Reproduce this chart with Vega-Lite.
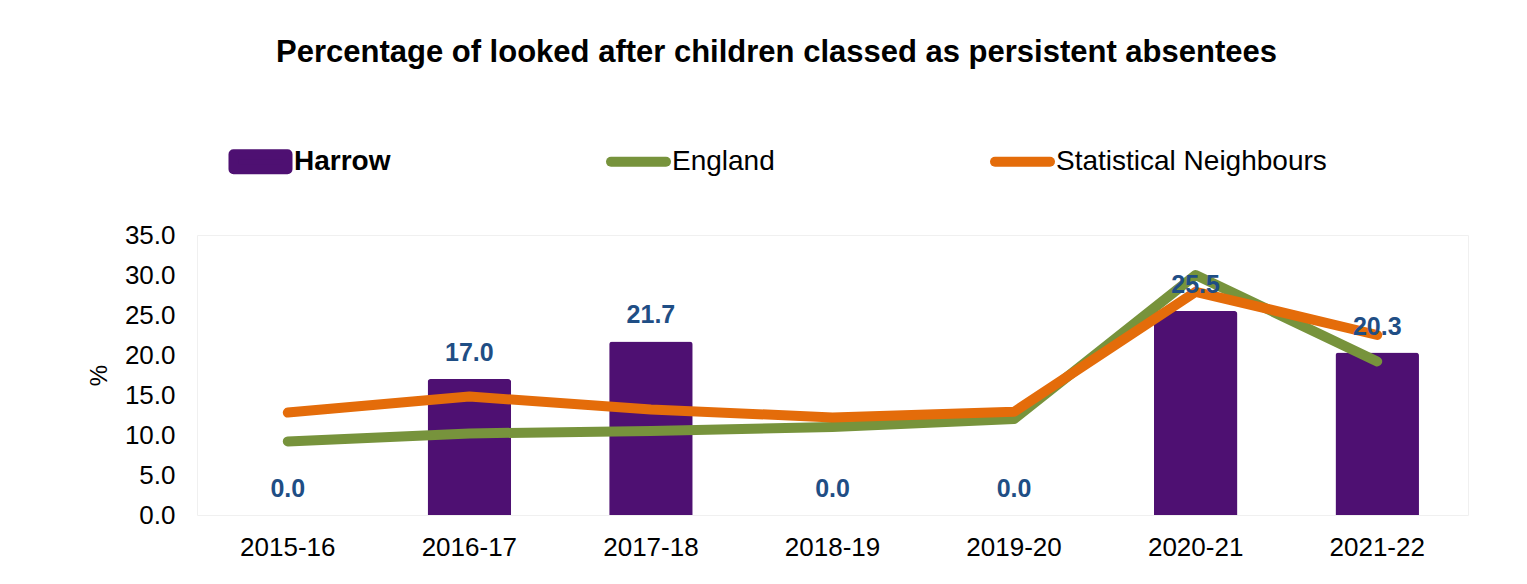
{
  "$schema": "https://vega.github.io/schema/vega-lite/v6.json",
  "autosize": {"type": "none"},
  "padding": {"left": 197, "top": 235, "right": 59, "bottom": 69},
  "width": 1271,
  "height": 280,
  "background": "white",
  "title": {
    "text": "Percentage of looked after children classed as persistent absentees",
    "font": "Liberation Sans",
    "fontSize": 31,
    "fontWeight": "bold",
    "color": "#000000",
    "anchor": "middle",
    "frame": "group",
    "dx": -56,
    "offset": 60
  },
  "config": {
    "view": {"stroke": "#F0F0F0", "strokeWidth": 1},
    "font": "Liberation Sans"
  },
  "data": {
    "values": [
      {"year": "2015-16", "series": "Harrow", "value": 0.0},
      {"year": "2016-17", "series": "Harrow", "value": 17.0},
      {"year": "2017-18", "series": "Harrow", "value": 21.7},
      {"year": "2018-19", "series": "Harrow", "value": 0.0},
      {"year": "2019-20", "series": "Harrow", "value": 0.0},
      {"year": "2020-21", "series": "Harrow", "value": 25.5},
      {"year": "2021-22", "series": "Harrow", "value": 20.3},
      {"year": "2015-16", "series": "England", "value": 9.2},
      {"year": "2016-17", "series": "England", "value": 10.2},
      {"year": "2017-18", "series": "England", "value": 10.5},
      {"year": "2018-19", "series": "England", "value": 11.0},
      {"year": "2019-20", "series": "England", "value": 12.0},
      {"year": "2020-21", "series": "England", "value": 30.0},
      {"year": "2021-22", "series": "England", "value": 19.2},
      {"year": "2015-16", "series": "Statistical Neighbours", "value": 12.8},
      {"year": "2016-17", "series": "Statistical Neighbours", "value": 14.8},
      {"year": "2017-18", "series": "Statistical Neighbours", "value": 13.2},
      {"year": "2018-19", "series": "Statistical Neighbours", "value": 12.2},
      {"year": "2019-20", "series": "Statistical Neighbours", "value": 12.9},
      {"year": "2020-21", "series": "Statistical Neighbours", "value": 27.9},
      {"year": "2021-22", "series": "Statistical Neighbours", "value": 22.5}
    ]
  },
  "encoding": {
    "x": {
      "field": "year",
      "type": "nominal",
      "sort": null,
      "scale": {"paddingInner": 0.54, "paddingOuter": 0.27},
      "axis": {
        "title": null,
        "labelAngle": 0,
        "labelFont": "Liberation Sans",
        "labelFontSize": 26,
        "labelColor": "#000000",
        "labelPadding": 19,
        "domain": false,
        "ticks": false,
        "grid": false
      }
    },
    "y": {
      "field": "value",
      "type": "quantitative",
      "scale": {"domain": [0, 35], "nice": false},
      "axis": {
        "title": "%",
        "titleFont": "Liberation Sans",
        "titleFontSize": 24,
        "titleFontWeight": "normal",
        "titleColor": "#000000",
        "titlePadding": 13,
        "values": [0, 5, 10, 15, 20, 25, 30, 35],
        "format": ".1f",
        "labelFont": "Liberation Sans",
        "labelFontSize": 26,
        "labelColor": "#000000",
        "labelPadding": 22,
        "domain": false,
        "ticks": false,
        "grid": false
      }
    }
  },
  "layer": [
    {
      "transform": [{"filter": "datum.series === 'Harrow'"}],
      "mark": {"type": "bar", "cornerRadiusTopLeft": 3, "cornerRadiusTopRight": 3},
      "encoding": {
        "color": {
          "field": "series",
          "type": "nominal",
          "scale": {
            "domain": ["Harrow", "England", "Statistical Neighbours"],
            "range": ["#4E1072", "#77933C", "#E46C0A"]
          },
          "legend": {
            "title": null,
            "orient": "none",
            "legendX": 31,
            "legendY": -106,
            "direction": "horizontal",
            "padding": 0,
            "columnPadding": 215,
            "symbolSize": 3025,
            "symbolStrokeWidth": 10,
            "labelFont": "Liberation Sans",
            "labelFontSize": 28,
            "labelColor": "#000000",
            "labelOffset": 1,
            "labelLimit": 500,
            "encode": {
              "symbols": {
                "update": {
                  "shape": {"signal": "datum.value === 'Harrow' ? 'M-0.982,-0.273H0.982V0.273H-0.982Z' : 'M-1,0H1'"},
                  "fill": {"signal": "datum.value === 'Harrow' ? '#4E1072' : 'transparent'"},
                  "stroke": {"signal": "datum.value === 'Harrow' ? '#4E1072' : (datum.value === 'England' ? '#77933C' : '#E46C0A')"},
                  "strokeCap": {"value": "round"},
                  "strokeJoin": {"value": "round"},
                  "opacity": {"value": 1}
                }
              },
              "labels": {
                "update": {
                  "fontWeight": {"signal": "datum.value === 'Harrow' ? 'bold' : 'normal'"}
                }
              }
            }
          }
        }
      }
    },
    {
      "transform": [{"filter": "datum.series !== 'Harrow'"}],
      "mark": {"type": "line", "strokeWidth": 10, "strokeCap": "round", "strokeJoin": "round"},
      "encoding": {
        "color": {"field": "series", "type": "nominal"}
      }
    },
    {
      "transform": [{"filter": "datum.series === 'Harrow'"}],
      "mark": {
        "type": "text",
        "baseline": "middle",
        "dy": -26,
        "font": "Liberation Sans",
        "fontSize": 25,
        "fontWeight": "bold",
        "color": "#1F4E85"
      },
      "encoding": {
        "text": {"field": "value", "type": "quantitative", "format": ".1f"}
      }
    }
  ]
}
